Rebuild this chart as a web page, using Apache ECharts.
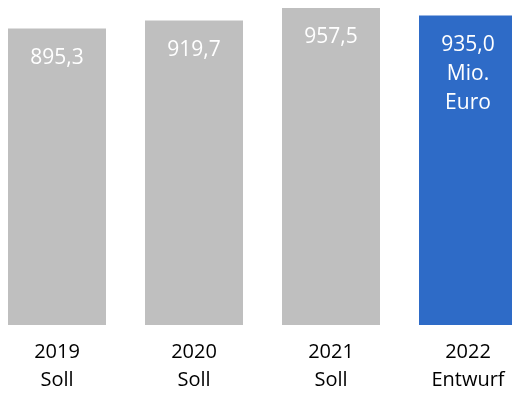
<!DOCTYPE html>
<html>
<head>
<meta charset="utf-8">
<script src="https://cdn.jsdelivr.net/npm/echarts@6/dist/echarts.min.js"></script>
<style>
  html, body { margin: 0; padding: 0; background: #fff; }
  #chart { width: 512px; height: 394px; }
</style>
</head>
<body>
<div id="chart"></div>
<script>
const years = ['2019', '2020', '2021', '2022'];
const kinds = ['Soll', 'Soll', 'Soll', 'Entwurf'];
const values = [895.3, 919.7, 957.5, 935.0];
const barColors = ['#BFBFBF', '#BFBFBF', '#BFBFBF', '#2E6BC7'];
const labelTexts = ['895,3', '919,7', '957,5', '935,0\nMio.\nEuro'];

const fontFamily = '"Open Sans", "Liberation Sans", sans-serif';

const chartDom = document.getElementById('chart');
const myChart = echarts.init(chartDom);

// bars sit on the category points, so the outer bars can run past the grid
const option = {
  animation: false,
  grid: {
    left: 57,
    width: 411,
    top: 8,
    bottom: 64,
    containLabel: false,
  },
  xAxis: {
    type: 'category',
    boundaryGap: false,
    data: years.map((y, i) => `${y}\n${kinds[i]}`),
    axisLine: { show: false },
    axisTick: { show: false },
    splitLine: { show: false },
    axisLabel: {
      color: '#000',
      fontSize: 20,
      lineHeight: 28,
      margin: 13,
      fontFamily,
      interval: 0,
    },
  },
  yAxis: {
    type: 'value',
    min: 0,
    max: 957.5,
    show: false,
    splitLine: { show: false },
  },
  series: [
    {
      type: 'bar',
      barWidth: 98,
      clip: false,
      data: values.map((v, i) => ({
        value: v,
        itemStyle: { color: barColors[i] },
      })),
      label: {
        show: true,
        position: 'insideTop',
        distance: 15,
        color: '#fff',
        fontSize: 21,
        lineHeight: 29,
        fontFamily,
        formatter: (p) => labelTexts[p.dataIndex],
      },
    },
  ],
};
myChart.setOption(option);
</script>
</body>
</html>
